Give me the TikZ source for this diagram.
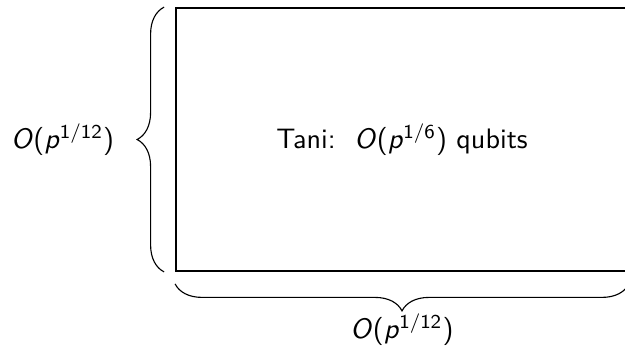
\documentclass[tikz,border=0pt]{standalone}
\usepackage{amsmath}
\usetikzlibrary{decorations.pathreplacing, positioning}
\renewcommand{\familydefault}{\sfdefault}
% italic sans order-of-growth
\newcommand{\ordp}[1]{\textit{O}(\textit{p}$^{\text{#1}}$)}

\begin{document}
\begin{tikzpicture}[
    x=0.0125cm, y=-0.0125cm,
    region/.style={draw, semithick, rectangle, minimum width=5.65cm, minimum height=3.2875cm, inner sep=0pt, align=center},
    curly/.style={decorate, decoration={brace, amplitude=0.3375cm}},
    sizelabel/.style={inner sep=0.333em}
]
\useasboundingbox (0,0) rectangle (625,349);

% Block
\node[region] (tani) at (402,139.5) {Tani:\ \ \ordp{1/6} qubits};

% Braces
\coordinate (lb) at ([xshift=-0.1375cm]tani.south west);
\coordinate (lt) at ([xshift=-0.1375cm]tani.north west);
\coordinate (bl) at ([yshift=-0.15cm]tani.south west);
\coordinate (br) at ([yshift=-0.15cm]tani.south east);

\draw[curly] (lb) -- (lt) node[sizelabel, midway, left=0.5cm] (height) {\ordp{1/12}};
\draw[curly] (br) -- (bl) node[sizelabel, midway, below=0.25cm] (width) {\ordp{1/12}};

\end{tikzpicture}
\end{document}
